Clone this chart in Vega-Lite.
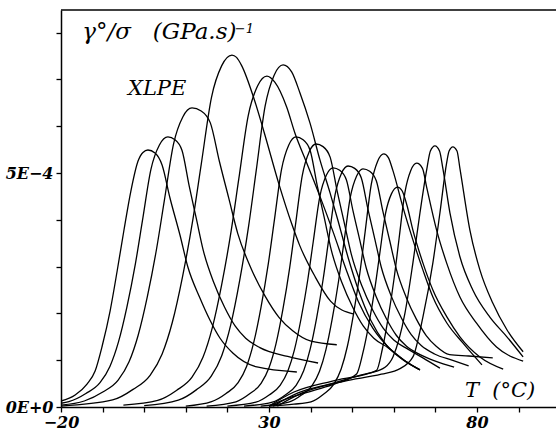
{
"$schema": "https://vega.github.io/schema/vega-lite/v6.json",
"width": 495, "height": 397,
"autosize": "none",
"padding": {"left": 61, "top": 10, "right": 0, "bottom": 27},
"background": "white",
"config": {"view": {"stroke": null}},
"datasets": {"curves": [
{"c":1,"t":-20,"v":0.128e-4},{"c":1,"t":-16.6,"v":0.256e-4},{"c":1,"t":-13.75,"v":0.491e-4},{"c":1,"t":-11.8,"v":0.769e-4},{"c":1,"t":-10.1,"v":1.303e-4},{"c":1,"t":-8.2,"v":2.051e-4},{"c":1,"t":-6.5,"v":2.906e-4},{"c":1,"t":-4.9,"v":3.761e-4},{"c":1,"t":-3.2,"v":4.615e-4},{"c":1,"t":-1.5,"v":5.25e-4},{"c":1,"t":-0.3,"v":5.44e-4},{"c":1,"t":0.9,"v":5.491e-4},{"c":1,"t":2.6,"v":5.427e-4},{"c":1,"t":4.3,"v":5.171e-4},{"c":1,"t":6.2,"v":4.466e-4},{"c":1,"t":8.6,"v":3.675e-4},{"c":1,"t":10.5,"v":2.991e-4},{"c":1,"t":13.4,"v":2.329e-4},{"c":1,"t":15.8,"v":1.859e-4},{"c":1,"t":18.2,"v":1.474e-4},{"c":1,"t":21.3,"v":1.154e-4},{"c":1,"t":27.1,"v":0.855e-4},{"c":1,"t":36.7,"v":0.748e-4},
{"c":2,"t":-20,"v":0.08e-4},{"c":2,"t":-18.1,"v":0.115e-4},{"c":2,"t":-14.02,"v":0.289e-4},{"c":2,"t":-10.62,"v":0.519e-4},{"c":2,"t":-8.24,"v":0.866e-4},{"c":2,"t":-6.2,"v":1.385e-4},{"c":2,"t":-4.16,"v":2.135e-4},{"c":2,"t":-2.12,"v":3.058e-4},{"c":2,"t":-0.42,"v":3.981e-4},{"c":2,"t":1.62,"v":5.078e-4},{"c":2,"t":3.66,"v":5.597e-4},{"c":2,"t":5.7,"v":5.77e-4},{"c":2,"t":7.4,"v":5.712e-4},{"c":2,"t":9.1,"v":5.482e-4},{"c":2,"t":10.8,"v":4.731e-4},{"c":2,"t":12.5,"v":4.039e-4},{"c":2,"t":14.2,"v":3.347e-4},{"c":2,"t":16.75,"v":2.654e-4},{"c":2,"t":19.3,"v":2.135e-4},{"c":2,"t":21.85,"v":1.731e-4},{"c":2,"t":24.4,"v":1.471e-4},{"c":2,"t":27.8,"v":1.269e-4},{"c":2,"t":34.5,"v":1.08e-4},{"c":2,"t":41.8,"v":0.94e-4},
{"c":3,"t":-20,"v":0.04e-4},{"c":3,"t":-14.4,"v":0.128e-4},{"c":3,"t":-9.96,"v":0.32e-4},{"c":3,"t":-6.26,"v":0.575e-4},{"c":3,"t":-3.67,"v":0.959e-4},{"c":3,"t":-1.45,"v":1.534e-4},{"c":3,"t":0.77,"v":2.364e-4},{"c":3,"t":2.99,"v":3.387e-4},{"c":3,"t":4.84,"v":4.409e-4},{"c":3,"t":7.06,"v":5.623e-4},{"c":3,"t":9.28,"v":6.198e-4},{"c":3,"t":11.5,"v":6.39e-4},{"c":3,"t":13.7,"v":6.326e-4},{"c":3,"t":15.9,"v":6.071e-4},{"c":3,"t":18.1,"v":5.24e-4},{"c":3,"t":20.3,"v":4.473e-4},{"c":3,"t":22.5,"v":3.706e-4},{"c":3,"t":25.8,"v":2.939e-4},{"c":3,"t":29.1,"v":2.364e-4},{"c":3,"t":32.4,"v":1.917e-4},{"c":3,"t":35.7,"v":1.629e-4},{"c":3,"t":40.1,"v":1.406e-4},{"c":3,"t":46.3,"v":1.33e-4},
{"c":4,"t":-20,"v":0.02e-4},{"c":4,"t":-7.6,"v":0.15e-4},{"c":4,"t":-2.68,"v":0.376e-4},{"c":4,"t":1.42,"v":0.677e-4},{"c":4,"t":4.29,"v":1.128e-4},{"c":4,"t":6.75,"v":1.805e-4},{"c":4,"t":9.21,"v":2.782e-4},{"c":4,"t":11.67,"v":3.986e-4},{"c":4,"t":13.72,"v":5.189e-4},{"c":4,"t":16.18,"v":6.618e-4},{"c":4,"t":18.64,"v":7.294e-4},{"c":4,"t":21.1,"v":7.52e-4},{"c":4,"t":22.2,"v":7.47e-4},{"c":4,"t":23.4,"v":7.3e-4},{"c":4,"t":26.5,"v":6.56e-4},{"c":4,"t":28.9,"v":5.85e-4},{"c":4,"t":32.3,"v":4.79e-4},{"c":4,"t":35.4,"v":3.93e-4},{"c":4,"t":37.35,"v":3.459e-4},{"c":4,"t":41.1,"v":2.782e-4},{"c":4,"t":44.85,"v":2.256e-4},{"c":4,"t":50.2,"v":1.99e-4},
{"c":5,"t":-5,"v":0.04e-4},{"c":5,"t":3.25,"v":0.141e-4},{"c":5,"t":7.75,"v":0.354e-4},{"c":5,"t":11.5,"v":0.636e-4},{"c":5,"t":14.13,"v":1.061e-4},{"c":5,"t":16.38,"v":1.697e-4},{"c":5,"t":18.63,"v":2.616e-4},{"c":5,"t":20.88,"v":3.747e-4},{"c":5,"t":22.75,"v":4.878e-4},{"c":5,"t":25.0,"v":6.222e-4},{"c":5,"t":27.25,"v":6.858e-4},{"c":5,"t":29.5,"v":7.07e-4},{"c":5,"t":31.4,"v":6.94e-4},{"c":5,"t":34.25,"v":6.41e-4},{"c":5,"t":36.25,"v":5.85e-4},{"c":5,"t":39.1,"v":5.21e-4},{"c":5,"t":42.3,"v":4.49e-4},{"c":5,"t":45.5,"v":3.72e-4},{"c":5,"t":48.5,"v":2.95e-4},{"c":5,"t":51.5,"v":2.25e-4},{"c":5,"t":55,"v":1.68e-4},{"c":5,"t":59,"v":1.25e-4},{"c":5,"t":63,"v":0.97e-4},{"c":5,"t":66.3,"v":0.79e-4},
{"c":6,"t":0,"v":0.03e-4},{"c":6,"t":8.2,"v":0.146e-4},{"c":6,"t":12.52,"v":0.366e-4},{"c":6,"t":16.12,"v":0.658e-4},{"c":6,"t":18.64,"v":1.097e-4},{"c":6,"t":20.8,"v":1.754e-4},{"c":6,"t":22.96,"v":2.705e-4},{"c":6,"t":25.12,"v":3.874e-4},{"c":6,"t":26.92,"v":5.044e-4},{"c":6,"t":29.08,"v":6.433e-4},{"c":6,"t":31.24,"v":7.091e-4},{"c":6,"t":33.4,"v":7.31e-4},{"c":6,"t":35.45,"v":7.16e-4},{"c":6,"t":37.45,"v":6.71e-4},{"c":6,"t":39.85,"v":6.07e-4},{"c":6,"t":42.25,"v":5.28e-4},{"c":6,"t":44.7,"v":4.57e-4},{"c":6,"t":46.6,"v":3.98e-4},{"c":6,"t":49,"v":3.2e-4},{"c":6,"t":51.5,"v":2.5e-4},{"c":6,"t":54.5,"v":1.85e-4},{"c":6,"t":58,"v":1.35e-4},{"c":6,"t":62,"v":1.02e-4},{"c":6,"t":66.3,"v":0.80e-4},
{"c":7,"t":10,"v":0.02e-4},{"c":7,"t":16.2,"v":0.115e-4},{"c":7,"t":19.68,"v":0.289e-4},{"c":7,"t":22.58,"v":0.519e-4},{"c":7,"t":24.61,"v":0.866e-4},{"c":7,"t":26.35,"v":1.385e-4},{"c":7,"t":28.09,"v":2.135e-4},{"c":7,"t":29.83,"v":3.058e-4},{"c":7,"t":31.28,"v":3.981e-4},{"c":7,"t":33.02,"v":5.078e-4},{"c":7,"t":34.76,"v":5.597e-4},{"c":7,"t":36.5,"v":5.77e-4},{"c":7,"t":38.2,"v":5.712e-4},{"c":7,"t":39.9,"v":5.482e-4},{"c":7,"t":41.6,"v":4.731e-4},{"c":7,"t":43.3,"v":4.039e-4},{"c":7,"t":45.0,"v":3.347e-4},{"c":7,"t":47.55,"v":2.654e-4},{"c":7,"t":50.1,"v":2.135e-4},{"c":7,"t":52.65,"v":1.731e-4},{"c":7,"t":55.2,"v":1.471e-4},{"c":7,"t":58.6,"v":1.269e-4},{"c":7,"t":62.5,"v":1.0e-4},{"c":7,"t":66.3,"v":0.79e-4},
{"c":8,"t":15,"v":0.02e-4},{"c":8,"t":22.05,"v":0.112e-4},{"c":8,"t":25.35,"v":0.281e-4},{"c":8,"t":28.1,"v":0.506e-4},{"c":8,"t":30.03,"v":0.843e-4},{"c":8,"t":31.68,"v":1.349e-4},{"c":8,"t":33.33,"v":2.079e-4},{"c":8,"t":34.98,"v":2.979e-4},{"c":8,"t":36.35,"v":3.878e-4},{"c":8,"t":38.0,"v":4.946e-4},{"c":8,"t":39.65,"v":5.451e-4},{"c":8,"t":41.3,"v":5.62e-4},{"c":8,"t":43.0,"v":5.564e-4},{"c":8,"t":44.7,"v":5.339e-4},{"c":8,"t":46.4,"v":4.608e-4},{"c":8,"t":48.1,"v":3.934e-4},{"c":8,"t":49.8,"v":3.26e-4},{"c":8,"t":52.35,"v":2.585e-4},{"c":8,"t":54.9,"v":2.079e-4},{"c":8,"t":57.45,"v":1.686e-4},{"c":8,"t":60.0,"v":1.433e-4},{"c":8,"t":63.4,"v":1.236e-4},{"c":8,"t":67,"v":1.05e-4},{"c":8,"t":71.1,"v":0.83e-4},
{"c":9,"t":20,"v":0.02e-4},{"c":9,"t":26.85,"v":0.102e-4},{"c":9,"t":30.03,"v":0.256e-4},{"c":9,"t":32.68,"v":0.46e-4},{"c":9,"t":34.54,"v":0.767e-4},{"c":9,"t":36.13,"v":1.226e-4},{"c":9,"t":37.72,"v":1.891e-4},{"c":9,"t":39.31,"v":2.708e-4},{"c":9,"t":40.63,"v":3.526e-4},{"c":9,"t":42.22,"v":4.497e-4},{"c":9,"t":43.81,"v":4.957e-4},{"c":9,"t":45.4,"v":5.11e-4},{"c":9,"t":47.0,"v":5.059e-4},{"c":9,"t":48.6,"v":4.855e-4},{"c":9,"t":50.2,"v":4.19e-4},{"c":9,"t":51.8,"v":3.577e-4},{"c":9,"t":53.4,"v":2.964e-4},{"c":9,"t":55.8,"v":2.351e-4},{"c":9,"t":58.2,"v":1.891e-4},{"c":9,"t":60.6,"v":1.533e-4},{"c":9,"t":63.0,"v":1.303e-4},{"c":9,"t":66.2,"v":1.124e-4},{"c":9,"t":70,"v":0.98e-4},{"c":9,"t":74.5,"v":0.85e-4},
{"c":10,"t":24,"v":0.02e-4},{"c":10,"t":30.8,"v":0.103e-4},{"c":10,"t":33.92,"v":0.258e-4},{"c":10,"t":36.52,"v":0.464e-4},{"c":10,"t":38.34,"v":0.773e-4},{"c":10,"t":39.9,"v":1.236e-4},{"c":10,"t":41.46,"v":1.906e-4},{"c":10,"t":43.02,"v":2.73e-4},{"c":10,"t":44.32,"v":3.554e-4},{"c":10,"t":45.88,"v":4.532e-4},{"c":10,"t":47.44,"v":4.996e-4},{"c":10,"t":49,"v":5.15e-4},{"c":10,"t":50.6,"v":5.099e-4},{"c":10,"t":52.2,"v":4.893e-4},{"c":10,"t":53.8,"v":4.223e-4},{"c":10,"t":55.4,"v":3.605e-4},{"c":10,"t":57.0,"v":2.987e-4},{"c":10,"t":59.4,"v":2.369e-4},{"c":10,"t":61.8,"v":1.906e-4},{"c":10,"t":64.2,"v":1.545e-4},{"c":10,"t":66.6,"v":1.313e-4},{"c":10,"t":69.8,"v":1.133e-4},{"c":10,"t":74,"v":1.0e-4},{"c":10,"t":78,"v":0.88e-4},
{"c":11,"t":28,"v":0.02e-4},{"c":11,"t":34.75,"v":0.102e-4},{"c":11,"t":37.81,"v":0.255e-4},{"c":11,"t":40.36,"v":0.458e-4},{"c":11,"t":42.15,"v":0.764e-4},{"c":11,"t":43.68,"v":1.222e-4},{"c":11,"t":45.2,"v":1.883e-4},{"c":11,"t":46.74,"v":2.698e-4},{"c":11,"t":48.01,"v":3.512e-4},{"c":11,"t":49.54,"v":4.479e-4},{"c":11,"t":51.07,"v":4.937e-4},{"c":11,"t":52.6,"v":5.09e-4},{"c":11,"t":54.2,"v":5.039e-4},{"c":11,"t":55.8,"v":4.836e-4},{"c":11,"t":57.4,"v":4.174e-4},{"c":11,"t":59.0,"v":3.563e-4},{"c":11,"t":60.6,"v":2.952e-4},{"c":11,"t":63.0,"v":2.341e-4},{"c":11,"t":65.4,"v":1.883e-4},{"c":11,"t":67.8,"v":1.527e-4},{"c":11,"t":70.2,"v":1.298e-4},{"c":11,"t":73.4,"v":1.12e-4},{"c":11,"t":78,"v":1.09e-4},{"c":11,"t":83.8,"v":1.05e-4},
{"c":12,"t":30,"v":0.02e-4},{"c":12,"t":36,"v":0.06e-4},{"c":12,"t":40.1,"v":0.108e-4},{"c":12,"t":43.1,"v":0.271e-4},{"c":12,"t":45.6,"v":0.487e-4},{"c":12,"t":47.35,"v":0.812e-4},{"c":12,"t":48.85,"v":1.298e-4},{"c":12,"t":50.35,"v":2.002e-4},{"c":12,"t":51.85,"v":2.867e-4},{"c":12,"t":53.1,"v":3.733e-4},{"c":12,"t":54.6,"v":4.761e-4},{"c":12,"t":56.1,"v":5.248e-4},{"c":12,"t":57.6,"v":5.41e-4},{"c":12,"t":58.7,"v":5.33e-4},{"c":12,"t":59.8,"v":5.05e-4},{"c":12,"t":62.2,"v":4.27e-4},{"c":12,"t":64.6,"v":3.57e-4},{"c":12,"t":67,"v":2.93e-4},{"c":12,"t":69.4,"v":2.35e-4},{"c":12,"t":72.8,"v":1.79e-4},{"c":12,"t":76.6,"v":1.37e-4},{"c":12,"t":81.2,"v":0.90e-4},
{"c":13,"t":30,"v":0.02e-4},{"c":13,"t":35,"v":0.2e-4},{"c":13,"t":41,"v":0.36e-4},{"c":13,"t":46,"v":0.5e-4},{"c":13,"t":51.06,"v":0.705e-4},{"c":13,"t":52.5,"v":1.128e-4},{"c":13,"t":53.94,"v":1.739e-4},{"c":13,"t":55.38,"v":2.491e-4},{"c":13,"t":56.58,"v":3.243e-4},{"c":13,"t":58.02,"v":4.136e-4},{"c":13,"t":59.46,"v":4.559e-4},{"c":13,"t":60.9,"v":4.70e-4},{"c":13,"t":62.0,"v":4.62e-4},{"c":13,"t":63.2,"v":4.3e-4},{"c":13,"t":64.6,"v":3.78e-4},{"c":13,"t":67.0,"v":3.08e-4},{"c":13,"t":69.4,"v":2.5e-4},{"c":13,"t":72.8,"v":1.92e-4},{"c":13,"t":75.9,"v":1.5e-4},{"c":13,"t":80.7,"v":1.07e-4},{"c":13,"t":86.3,"v":0.81e-4},
{"c":14,"t":31,"v":0.02e-4},{"c":14,"t":37,"v":0.3e-4},{"c":14,"t":45,"v":0.5e-4},{"c":14,"t":52,"v":0.68e-4},{"c":14,"t":55.87,"v":0.782e-4},{"c":14,"t":57.28,"v":1.25e-4},{"c":14,"t":58.69,"v":1.928e-4},{"c":14,"t":60.1,"v":2.761e-4},{"c":14,"t":61.27,"v":3.595e-4},{"c":14,"t":62.68,"v":4.585e-4},{"c":14,"t":64.09,"v":5.054e-4},{"c":14,"t":65.5,"v":5.21e-4},{"c":14,"t":66.9,"v":5.1e-4},{"c":14,"t":67.9,"v":4.7e-4},{"c":14,"t":70.3,"v":3.78e-4},{"c":14,"t":72.7,"v":3.08e-4},{"c":14,"t":75.9,"v":2.35e-4},{"c":14,"t":79.9,"v":1.79e-4},{"c":14,"t":84.7,"v":1.28e-4},{"c":14,"t":91.1,"v":0.98e-4},
{"c":15,"t":30,"v":0.02e-4},{"c":15,"t":36,"v":0.32e-4},{"c":15,"t":45,"v":0.55e-4},{"c":15,"t":54,"v":0.72e-4},{"c":15,"t":57.9,"v":0.85e-4},{"c":15,"t":59.8,"v":1.07e-4},{"c":15,"t":62.7,"v":2.01e-4},{"c":15,"t":64.6,"v":3.08e-4},{"c":15,"t":66.3,"v":4.15e-4},{"c":15,"t":67.9,"v":5.06e-4},{"c":15,"t":68.8,"v":5.47e-4},{"c":15,"t":69.9,"v":5.58e-4},{"c":15,"t":71.0,"v":5.47e-4},{"c":15,"t":71.8,"v":5.1e-4},{"c":15,"t":73.5,"v":4.15e-4},{"c":15,"t":75.9,"v":3.21e-4},{"c":15,"t":79.0,"v":2.5e-4},{"c":15,"t":83.1,"v":1.92e-4},{"c":15,"t":87.2,"v":1.5e-4},{"c":15,"t":91.1,"v":1.07e-4},
{"c":16,"t":32,"v":0.02e-4},{"c":16,"t":38,"v":0.3e-4},{"c":16,"t":48,"v":0.55e-4},{"c":16,"t":57,"v":0.7e-4},{"c":16,"t":61.5,"v":0.82e-4},{"c":16,"t":64.6,"v":1.07e-4},{"c":16,"t":67.0,"v":1.92e-4},{"c":16,"t":69.4,"v":3.08e-4},{"c":16,"t":71.1,"v":4.15e-4},{"c":16,"t":72.7,"v":5.21e-4},{"c":16,"t":73.3,"v":5.47e-4},{"c":16,"t":74.2,"v":5.56e-4},{"c":16,"t":75.2,"v":5.47e-4},{"c":16,"t":75.9,"v":5.1e-4},{"c":16,"t":78.3,"v":3.78e-4},{"c":16,"t":80.7,"v":2.93e-4},{"c":16,"t":83.8,"v":2.22e-4},{"c":16,"t":87.2,"v":1.65e-4},{"c":16,"t":91.1,"v":1.18e-4}
]},
"layer": [
{"data": {"name": "curves"},
 "mark": {"type": "line", "color": "black", "strokeWidth": 1.3, "clip": true, "interpolate": "monotone"},
 "encoding": {
  "x": {"field": "t", "type": "quantitative", "scale": {"domain": [-20, 99], "nice": false, "zero": false},
   "axis": {"orient": "bottom", "values": [-20,-10,0,10,20,30,40,50,60,70,80,90], "labelExpr": "datum.value == -20 || datum.value == 30 || datum.value == 80 ? format(datum.value, 'd') : ''", "title": null, "grid": false, "domainColor": "black", "domainWidth": 1.5, "tickColor": "black", "tickWidth": 1.3, "tickSize": 5, "labelFont": "DejaVu Serif", "labelFontStyle": "italic", "labelFontWeight": "bold", "labelFontSize": 16, "labelColor": "black", "labelPadding": 2, "labelOverlap": false, "labelFlush": false}},
  "y": {"field": "v", "type": "quantitative", "scale": {"domain": [0, 0.0008483], "nice": false},
   "axis": {"orient": "left", "values": [0,0.0001,0.0002,0.0003,0.0004,0.0005,0.0006,0.0007,0.0008], "labelExpr": "datum.value == 0 ? '0E+0' : (abs(datum.value - 0.0005) < 1e-9 ? '5E\u22124' : '')", "title": null, "grid": false, "domainColor": "black", "domainWidth": 1.5, "tickColor": "black", "tickWidth": 1.3, "tickSize": 5, "labelFont": "DejaVu Serif", "labelFontStyle": "italic", "labelFontWeight": "bold", "labelFontSize": 16, "labelColor": "black", "labelPadding": 3, "labelOverlap": false, "labelFlush": false}},
  "detail": {"field": "c", "type": "nominal"}
 }},
{"data": {"values": [{}]},
 "mark": {"type": "rule", "color": "black", "strokeWidth": 1.5},
 "encoding": {"y": {"datum": 0.0008483, "type": "quantitative"}}},
{"data": {"values": [{}]},
 "mark": {"type": "text", "text": "γ°/σ\u00a0\u00a0\u00a0(GPa.s)", "align": "left", "baseline": "alphabetic", "font": "DejaVu Serif", "fontStyle": "italic", "fontSize": 23, "color": "black"},
 "encoding": {"x": {"datum": -14.9, "type": "quantitative"}, "y": {"datum": 0.000786, "type": "quantitative"}}},
{"data": {"values": [{}]},
 "mark": {"type": "text", "text": "−1", "align": "left", "baseline": "alphabetic", "font": "DejaVu Serif", "fontStyle": "italic", "fontSize": 13, "color": "black"},
 "encoding": {"x": {"datum": 21.8, "type": "quantitative"}, "y": {"datum": 0.000799, "type": "quantitative"}}},
{"data": {"values": [{}]},
 "mark": {"type": "text", "text": "XLPE", "align": "left", "baseline": "alphabetic", "font": "DejaVu Serif", "fontStyle": "italic", "fontSize": 21, "color": "black"},
 "encoding": {"x": {"datum": -3.9, "type": "quantitative"}, "y": {"datum": 0.0006667, "type": "quantitative"}}},
{"data": {"values": [{}]},
 "mark": {"type": "text", "text": "T\u00a0\u00a0(°C)", "align": "left", "baseline": "alphabetic", "font": "DejaVu Serif", "fontStyle": "italic", "fontSize": 21, "color": "black"},
 "encoding": {"x": {"datum": 77.1, "type": "quantitative"}, "y": {"datum": 0.000022, "type": "quantitative"}}}
]
}
